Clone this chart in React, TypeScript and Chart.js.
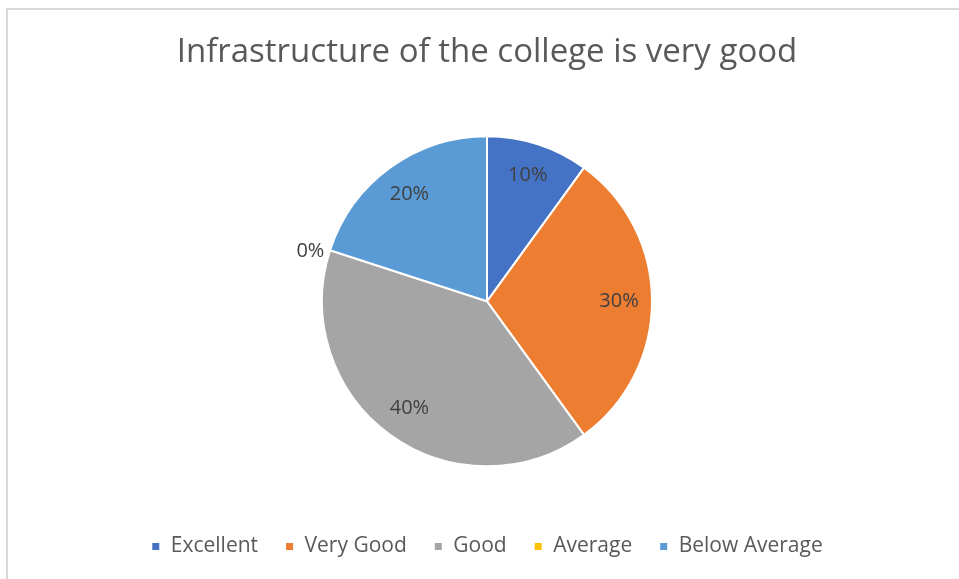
import React, { useEffect, useRef } from "react";
import { Chart, registerables } from "chart.js";

Chart.register(...registerables);

const categories = ["Excellent", "Very Good", "Good", "Average", "Below Average"];
const values = [10, 30, 40, 0, 20];
const percentLabels = ["10%", "30%", "40%", "0%", "20%"];
const colors = ["#4472C4", "#ED7D31", "#A5A5A5", "#FFC000", "#5B9BD5"];
const titleText = "Infrastructure of the college is very good";

const FONT = "'Open Sans', Lato, sans-serif";

const labelPlugin = {
  id: "pieLabels",
  afterDatasetsDraw(chart: any) {
    const ctx = chart.ctx;
    const meta = chart.getDatasetMeta(0);
    ctx.save();
    ctx.font = `20px ${FONT}`;
    ctx.fillStyle = "#404040";
    ctx.textBaseline = "middle";
    meta.data.forEach((arc: any, i: number) => {
      const p = arc.getProps(["x", "y", "startAngle", "endAngle", "outerRadius"], true);
      const mid = (p.startAngle + p.endAngle) / 2;
      if (values[i] === 0) {
        const r = p.outerRadius + 6;
        const x = p.x + Math.cos(mid) * r;
        const y = p.y + Math.sin(mid) * r + 3;
        ctx.textAlign = Math.cos(mid) < 0 ? "right" : "left";
        ctx.fillText(percentLabels[i], x, y);
      } else {
        const r = p.outerRadius * 0.8;
        ctx.textAlign = "center";
        ctx.fillText(percentLabels[i], p.x + Math.cos(mid) * r, p.y + Math.sin(mid) * r);
      }
    });
    ctx.restore();
  },
};

export default function App() {
  const ref = useRef<HTMLCanvasElement | null>(null);
  useEffect(() => {
    if (!ref.current) return;
    const chart = new Chart(ref.current, {
      type: "pie",
      data: {
        labels: categories,
        datasets: [
          {
            data: values,
            backgroundColor: colors,
            borderColor: "#ffffff",
            borderWidth: 2,
          },
        ],
      },
      options: {
        animation: false,
        responsive: false,
        radius: 165,
        layout: { padding: { left: 5, right: 0, top: 0, bottom: 14 } },
        plugins: {
          tooltip: { enabled: false },
          title: {
            display: true,
            text: titleText,
            color: "#595959",
            font: { family: FONT, size: 33, weight: "normal" },
            padding: { top: 23, bottom: 21 },
          },
          legend: {
            position: "bottom",
            labels: {
              color: "#595959",
              font: { family: FONT, size: 21 },
              boxWidth: 9,
              boxHeight: 9,
              padding: 27,
            },
          },
        },
      },
      plugins: [labelPlugin],
    });
    return () => chart.destroy();
  }, []);
  return (
    <div
      style={{
        position: "fixed",
        left: 6,
        top: 8,
        width: 955,
        height: 573,
        border: "2px solid #d9d9d9",
        background: "#fff",
      }}
    >
      <canvas ref={ref} width={953} height={571} style={{ display: "block" }} />
    </div>
  );
}
